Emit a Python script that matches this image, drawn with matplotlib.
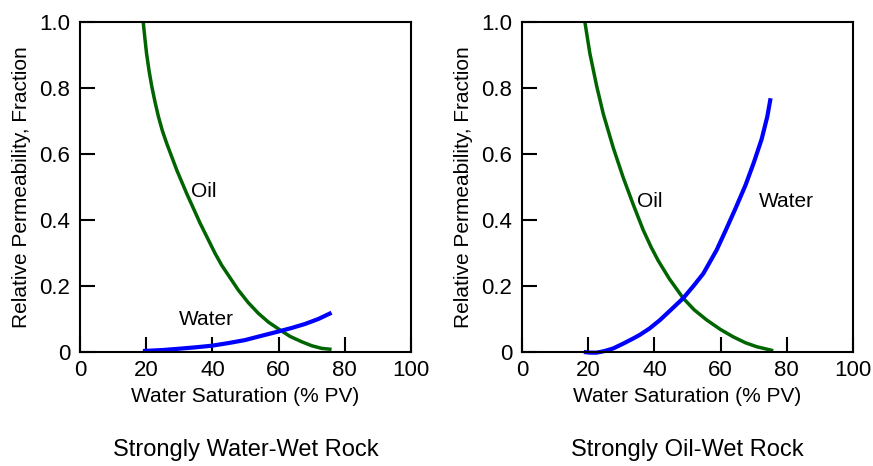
import matplotlib
matplotlib.use("Agg")
import matplotlib.pyplot as plt

plt.rcParams["font.family"] = ["Liberation Sans", "DejaVu Sans"]

# ── data ──
# strongly water-wet
sw_oil_ww = [19.1, 19.6, 20.1, 20.9, 21.7, 22.7, 23.7, 24.9, 26.2, 29.2, 32.2, 36.3, 40.8, 42.8, 47.8, 50.8, 53.9, 57.0, 60.4, 63.5, 67.0, 70.0, 73.0, 76.0]
kro_ww    = [1.0, 0.951, 0.905, 0.85, 0.804, 0.756, 0.713, 0.67, 0.632, 0.552, 0.481, 0.39, 0.299, 0.263, 0.188, 0.150, 0.117, 0.090, 0.067, 0.047, 0.031, 0.019, 0.011, 0.008]
sw_wat_ww = [19.0, 25.0, 30.0, 34.7, 39.8, 44.8, 49.8, 54.8, 59.9, 64.0, 68.0, 72.0, 76.0]
krw_ww    = [0.003, 0.006, 0.010, 0.014, 0.019, 0.027, 0.036, 0.049, 0.062, 0.073, 0.085, 0.100, 0.119]

# strongly oil-wet
sw_oil_ow = [19.0, 20.5, 22.6, 24.6, 27.6, 30.6, 33.6, 36.6, 39.0, 41.2, 44.5, 48.7, 52.0, 55.8, 60.0, 63.8, 67.5, 70.9, 75.9]
kro_ow    = [1.0, 0.905, 0.804, 0.72, 0.618, 0.528, 0.447, 0.37, 0.318, 0.276, 0.222, 0.163, 0.128, 0.097, 0.068, 0.046, 0.028, 0.016, 0.004]
sw_wat_ow = [18.7, 20.5, 22.6, 25.0, 27.6, 30.5, 33.6, 35.6, 38.5, 41.7, 45.0, 48.7, 51.8, 54.8, 58.8, 61.6, 64.5, 67.5, 70.0, 72.4, 74.1, 75.1]
krw_ow    = [0.0, -0.002, -0.002, 0.003, 0.011, 0.025, 0.041, 0.052, 0.071, 0.097, 0.128, 0.163, 0.200, 0.238, 0.309, 0.370, 0.435, 0.505, 0.573, 0.645, 0.713, 0.769]

panels = [
    dict(sw_o=sw_oil_ww, kro=kro_ww, sw_w=sw_wat_ww, krw=krw_ww,
         oil_lbl=(37.5, 0.485), wat_lbl=(38.3, 0.097), title="Strongly Water-Wet Rock"),
    dict(sw_o=sw_oil_ow, kro=kro_ow, sw_w=sw_wat_ow, krw=krw_ow,
         oil_lbl=(38.7, 0.455), wat_lbl=(80.0, 0.455), title="Strongly Oil-Wet Rock"),
]

xticks = [0, 20, 40, 60, 80, 100]
yticks = [0, 0.2, 0.4, 0.6, 0.8, 1.0]
ytick_labels = ["0", "0.2", "0.4", "0.6", "0.8", "1.0"]

GREEN = "#006400"
BLUE = "#0000ff"

W, H = 873, 466
fig = plt.figure(figsize=(W / 100, H / 100), dpi=100)
lefts = [80, 522]
for left, p in zip(lefts, panels):
    ax = fig.add_axes([left / W, (H - 352) / H, 331 / W, 330 / H])
    ax.plot(p["sw_o"], p["kro"], color=GREEN, lw=2.5, solid_capstyle="butt",
            solid_joinstyle="round", clip_on=False)
    ax.plot(p["sw_w"], p["krw"], color=BLUE, lw=3.0, solid_capstyle="butt",
            solid_joinstyle="round", clip_on=False)
    ax.text(*p["oil_lbl"], "Oil", fontsize=15, ha="center", va="center")
    ax.text(*p["wat_lbl"], "Water", fontsize=15, ha="center", va="center")
    ax.set_xlim(0, 100); ax.set_ylim(0, 1.0)
    ax.set_xticks(xticks); ax.set_xticklabels([str(t) for t in xticks])
    ax.set_yticks(yticks); ax.set_yticklabels(ytick_labels)
    ax.tick_params(direction="in", length=10.5, width=1.5, labelsize=16, color="black")
    ax.tick_params(axis="x", pad=6)
    ax.tick_params(axis="y", pad=7)
    for s in ax.spines.values():
        s.set_linewidth(1.5)
    ax.set_xlabel("Water Saturation (% PV)", fontsize=15, labelpad=4)
    ax.set_ylabel("Relative Permeability, Fraction", fontsize=15, labelpad=6)
    ax.text(0.5, -0.297, p["title"], transform=ax.transAxes, fontsize=17,
            ha="center", va="center")

fig.savefig("out.png", dpi=100)
